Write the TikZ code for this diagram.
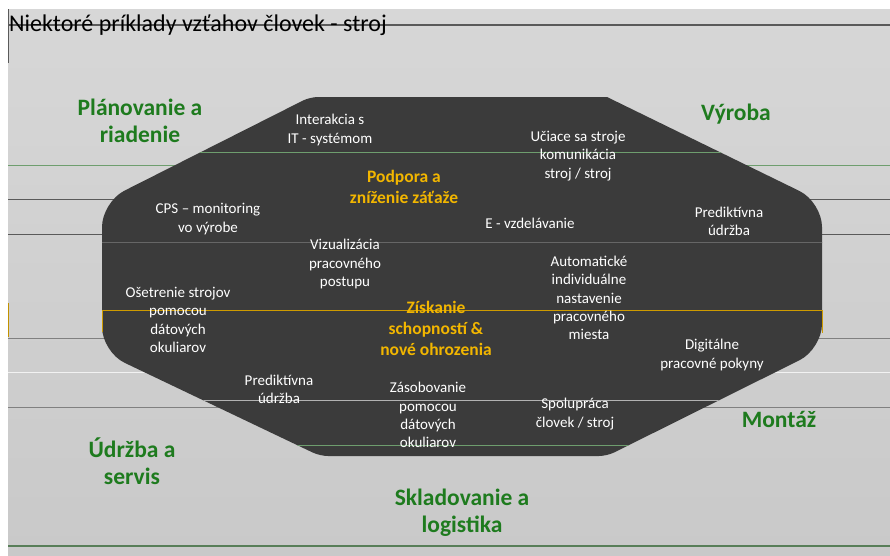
\documentclass[tikz,border=0pt]{standalone}
\usepackage{fontspec}
\setmainfont{Carlito}
\definecolor{bgtop}{HTML}{D7D7D7}
\definecolor{bgbot}{HTML}{C9C9C9}
\definecolor{octfill}{HTML}{3B3B3B}
\definecolor{catgreen}{HTML}{1E7B1E}
\definecolor{hotyellow}{HTML}{F2B600}
\definecolor{lgreen}{HTML}{6E9E6E}
\definecolor{dgray}{HTML}{5A5A5A}
\tikzset{
  cat/.style={text=catgreen, font=\fontsize{23.5}{27}\selectfont\bfseries, align=center, inner sep=0pt},
  inr/.style={text=white, font=\fontsize{15}{18.3}\selectfont, align=center, inner sep=0pt},
  hot/.style={text=hotyellow, font=\fontsize{17.5}{21}\selectfont\bfseries, align=center, inner sep=0pt},
  bgline/.style={line width=1pt},
}
\begin{document}
\begin{tikzpicture}[x=1pt,y=-1pt]
\useasboundingbox (0,0) rectangle (890,555);
\fill[white] (0,0) rectangle (890,555);
\shade[top color=bgtop, bottom color=bgbot] (8,9) rectangle (890,555);
% background lines
\draw[dgray, line width=1.5pt] (8,25) -- (890,25);
\draw[dgray, line width=1pt] (8,9) -- (8,63);
\draw[bgline, lgreen] (8,165) -- (890,165);
\draw[bgline, dgray] (8,199) -- (890,199);
\draw[bgline, dgray] (8,234) -- (890,234);
\draw[bgline, gray] (8,338) -- (890,338);
\draw[bgline, white!90!gray] (8,372) -- (890,372);
\draw[bgline, gray] (8,407) -- (890,407);
\draw[bgline, hotyellow!80!black] (8,303) -- (8,337);
\draw[line width=1.2pt, lgreen!80!black] (8,546) -- (890,546);
% octagon
\fill[octfill] (458,97) -- (607,97) [rounded corners=25pt] -- (822,202) [rounded corners=25pt] -- (822,349) [rounded corners=8pt] -- (607,456) [rounded corners=8pt] -- (320,456) [rounded corners=25pt] -- (102,352) [rounded corners=25pt] -- (102,202) [rounded corners=8pt] -- (310,97) [sharp corners] -- cycle;
\begin{scope}
\clip (458,97) -- (607,97) [rounded corners=25pt] -- (822,202) [rounded corners=25pt] -- (822,349) [rounded corners=8pt] -- (607,456) [rounded corners=8pt] -- (320,456) [rounded corners=25pt] -- (102,352) [rounded corners=25pt] -- (102,202) [rounded corners=8pt] -- (310,97) [sharp corners] -- cycle;
\draw[bgline, lgreen] (0,152) -- (890,152);
\draw[bgline, gray!80!black] (0,242) -- (890,242);
\draw[bgline, hotyellow!85!black] (0,310) -- (890,310);
\draw[bgline, gray!60] (0,400) -- (890,400);
\draw[bgline, lgreen] (0,445) -- (890,445);
\end{scope}
\draw[bgline, hotyellow!85!black] (102,310) -- (102,332);
\draw[bgline, hotyellow!85!black] (822,310) -- (822,333);
% title
\node[anchor=west, inner sep=0pt, font=\fontsize{24}{28}\selectfont] (title) at (9,25) {Niektoré príklady vzťahov človek - stroj};
% categories
\node[cat] (plan) at (140,121) {Plánovanie a\\riadenie};
\node[cat] (vyroba) at (736,114) {Výroba};
\node[cat] (montaz) at (779,419) {Montáž};
\node[cat] (udrzba) at (132,461) {Údržba a\\servis};
\node[cat] (sklad) at (462,513) {Skladovanie a\\logistika};
% inner texts
\node[inr] (interakcia) at (330,130) {Interakcia s\\IT - systémom};
\node[inr] (uciace) at (578,156) {Učiace sa stroje\\komunikácia\\stroj / stroj};
\node[hot] (podpora) at (404,187) {Podpora a\\zníženie záťaže};
\node[inr] (cps) at (208,219) {CPS – monitoring\\vo výrobe};
\node[inr] (evzdel) at (530,223) {E - vzdelávanie};
\node[inr] (predikt1) at (729,221) {Prediktívna\\údržba};
\node[inr] (vizual) at (345,264) {Vizualizácia\\pracovného\\postupu};
\node[inr] (auto) at (589,298) {Automatické\\individuálne\\nastavenie\\pracovného\\miesta};
\node[inr] (osetr) at (178,320) {Ošetrenie strojov\\pomocou\\dátových\\okuliarov};
\node[hot] (ziskanie) at (436,328) {Získanie\\schopností \&\\nové ohrozenia};
\node[inr] (digit) at (712,355) {Digitálne\\pracovné pokyny};
\node[inr] (predikt2) at (279,389) {Prediktívna\\údržba};
\node[inr] (zasob) at (428,415) {Zásobovanie\\pomocou\\dátových\\okuliarov};
\node[inr] (spolu) at (575,414) {Spolupráca\\človek / stroj};
\end{tikzpicture}
\end{document}
